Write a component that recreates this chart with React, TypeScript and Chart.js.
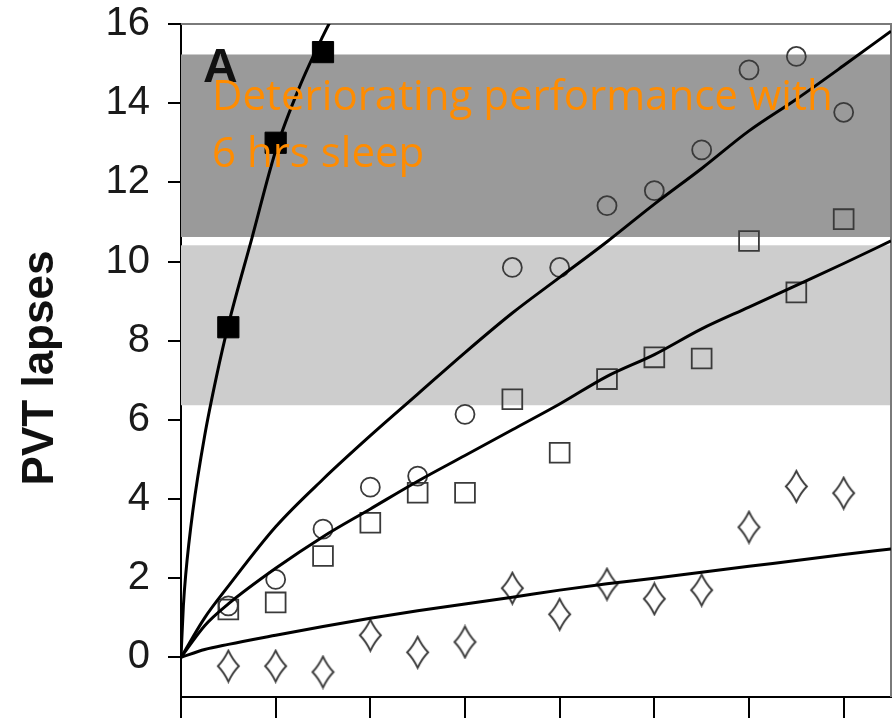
import React, { useEffect, useRef } from 'react';
import { Chart, registerables } from 'chart.js';

Chart.register(...registerables);

// ---------- data ----------
const Y_TICKS = [0, 2, 4, 6, 8, 10, 12, 14, 16];
const X_TICKS = [0, 2, 4, 6, 8, 10, 12, 14];
const DAYS = [1, 2, 3, 4, 5, 6, 7, 8, 9, 10, 11, 12, 13, 14];

const FILLED_DAYS = [1, 2, 3];
const FILLED_SQUARES = [8.34, 13.0, 15.29];
const CIRCLES = [1.3, 1.97, 3.24, 4.3, 4.58, 6.14, 9.85, 9.85, 11.41, 11.79, 12.82, 14.84, 15.18, 13.77];
const OPEN_SQUARES = [1.21, 1.39, 2.56, 3.4, 4.16, 4.16, 6.52, 5.17, 7.03, 7.58, 7.55, 10.52, 9.22, 11.07];
const DIAMONDS = [-0.22, -0.22, -0.37, 0.56, 0.13, 0.39, 1.75, 1.09, 1.85, 1.48, 1.7, 3.29, 4.32, 4.15];

// fitted curves
const FIT1_X = [0, 0.05, 0.1, 0.25, 0.5, 0.75, 1, 1.5, 2, 2.5, 3, 3.3];
const FIT1_Y = [0, 1.3, 2.1, 3.7, 5.6, 7.1, 8.4, 10.6, 12.8, 14.4, 15.7, 16.4];
const FIT_X = [0, 0.5, 1, 2, 3, 4, 5, 6, 7, 8, 9, 10, 11, 12, 13, 14, 15];
const FIT2_Y = [0, 1.0, 1.8, 3.3, 4.5, 5.6, 6.65, 7.7, 8.7, 9.6, 10.5, 11.45, 12.35, 13.3, 14.1, 14.95, 15.82];
const FIT3_Y = [0, 0.8, 1.35, 2.25, 3.05, 3.75, 4.45, 5.1, 5.75, 6.4, 7.1, 7.65, 8.3, 8.85, 9.4, 9.95, 10.52];
const FIT4_Y = [0, 0.2, 0.33, 0.56, 0.78, 0.99, 1.18, 1.35, 1.52, 1.7, 1.86, 2.0, 2.15, 2.3, 2.45, 2.6, 2.74];

// shaded bands [low, high]
const BAND_DARK = [10.62, 15.23];
const BAND_LIGHT = [6.37, 10.41];

const Y_TITLE = 'PVT lapses';
const PANEL_LABEL = 'A';
const NOTE_LINES = ['Deteriorating performance with', '6 hrs sleep'];

function pts(xs: number[], ys: number[]) {
  return xs.map((x, i) => ({ x, y: ys[i] }));
}

function makeDiamond(): HTMLCanvasElement {
  const c = document.createElement('canvas');
  const w = 25, h = 35;
  c.width = w; c.height = h;
  const g = c.getContext('2d')!;
  const cx = w / 2, cy = h / 2;
  const t = 2, b = h - 2, l = 2, r = w - 2;
  g.strokeStyle = '#3a3a3a';
  g.lineWidth = 1.8;
  g.beginPath();
  g.moveTo(cx, t);
  g.quadraticCurveTo(cx + 4.5, cy - 6, r, cy);
  g.quadraticCurveTo(cx + 4.5, cy + 6, cx, b);
  g.quadraticCurveTo(cx - 4.5, cy + 6, l, cy);
  g.quadraticCurveTo(cx - 4.5, cy - 6, cx, t);
  g.closePath();
  g.stroke();
  return c;
}

const decorPlugin = {
  id: 'decor',
  beforeDatasetsDraw(chart: any) {
    const { ctx, chartArea, scales } = chart;
    const y = scales.y;
    ctx.save();
    ctx.fillStyle = '#9a9a9a';
    const d1 = y.getPixelForValue(BAND_DARK[1]);
    const d0 = y.getPixelForValue(BAND_DARK[0]);
    ctx.fillRect(chartArea.left, d1, chartArea.right - chartArea.left, d0 - d1);
    ctx.fillStyle = '#cdcdcd';
    const l1 = y.getPixelForValue(BAND_LIGHT[1]);
    const l0 = y.getPixelForValue(BAND_LIGHT[0]);
    ctx.fillRect(chartArea.left, l1, chartArea.right - chartArea.left, l0 - l1);
    // frame top & right
    ctx.strokeStyle = '#7a7a7a';
    ctx.lineWidth = 2;
    ctx.beginPath();
    ctx.moveTo(chartArea.left, chartArea.top);
    ctx.lineTo(chartArea.right, chartArea.top);
    ctx.lineTo(chartArea.right, chartArea.bottom);
    ctx.stroke();
    ctx.restore();
  },
  afterDatasetsDraw(chart: any) {
    const { ctx } = chart;
    ctx.save();
    ctx.fillStyle = '#111';
    ctx.textBaseline = 'alphabetic';
    ctx.textAlign = 'left';
    ctx.font = 'bold 48px "Liberation Sans", Arial, sans-serif';
    ctx.fillText(PANEL_LABEL, 203, 82);
    ctx.fillStyle = '#ff8c00';
    ctx.font = '42px "Open Sans", sans-serif';
    ctx.fillText(NOTE_LINES[0], 212, 110);
    ctx.fillText(NOTE_LINES[1], 212, 167);
    // y axis title
    ctx.fillStyle = '#111';
    ctx.font = 'bold 44px "Liberation Sans", Arial, sans-serif';
    ctx.translate(53, 368);
    ctx.rotate(-Math.PI / 2);
    ctx.textAlign = 'center';
    ctx.fillText(Y_TITLE, 0, 0);
    ctx.restore();
  },
};

export default function App() {
  const ref = useRef<HTMLCanvasElement | null>(null);
  useEffect(() => {
    if (!ref.current) return;
    const diamond = makeDiamond();
    const lineDs = (data: any[]) => ({
      data,
      showLine: true,
      borderColor: '#000',
      borderWidth: 3,
      pointRadius: 0,
      cubicInterpolationMode: 'monotone',
      fill: false,
    });
    const chart = new Chart(ref.current, {
      type: 'scatter',
      data: {
        datasets: [
          lineDs(pts(FIT1_X, FIT1_Y)),
          lineDs(pts(FIT_X, FIT2_Y)),
          lineDs(pts(FIT_X, FIT3_Y)),
          lineDs(pts(FIT_X, FIT4_Y)),
          {
            data: pts(DAYS, CIRCLES),
            pointStyle: 'circle',
            pointRadius: 9.5,
            borderColor: '#3a3a3a',
            backgroundColor: 'rgba(0,0,0,0)',
            borderWidth: 1.8,
          } as any,
          {
            data: pts(DAYS, OPEN_SQUARES),
            pointStyle: 'rect',
            pointRadius: 14,
            borderColor: '#3a3a3a',
            backgroundColor: 'rgba(0,0,0,0)',
            borderWidth: 1.8,
          } as any,
          {
            data: pts(DAYS, DIAMONDS),
            pointStyle: diamond,
            pointRadius: 12,
          } as any,
          {
            data: pts(FILLED_DAYS, FILLED_SQUARES),
            pointStyle: 'rect',
            pointRadius: 15,
            borderColor: '#000',
            backgroundColor: '#000',
            borderWidth: 1,
          } as any,
        ],
      },
      options: {
        animation: false,
        responsive: false,
        devicePixelRatio: 1,
        layout: { autoPadding: false, padding: { top: 24, right: 1, left: 0, bottom: 0 } },
        plugins: { legend: { display: false }, tooltip: { enabled: false } },
        scales: {
          x: {
            type: 'linear',
            min: 0,
            max: 15,
            afterBuildTicks: (s: any) => { s.ticks = X_TICKS.map((v) => ({ value: v })); },
            afterFit: (s: any) => { s.height = 24; s.paddingLeft = 0; s.paddingRight = 0; },
            ticks: { display: false },
            grid: { drawOnChartArea: false, drawTicks: true, tickLength: 21, color: '#000', lineWidth: 2 },
            border: { display: true, color: '#000', width: 2 },
          },
          y: {
            type: 'linear',
            min: -1,
            max: 16,
            afterBuildTicks: (s: any) => { s.ticks = Y_TICKS.map((v) => ({ value: v })); },
            afterFit: (s: any) => { s.width = 181; s.paddingTop = 0; s.paddingBottom = 0; },
            ticks: {
              padding: 18,
              color: '#1a1a1a',
              font: { family: '"Liberation Sans", Arial, sans-serif', size: 40 },
            },
            grid: { drawOnChartArea: false, drawTicks: true, tickLength: 13, color: '#000', lineWidth: 2 },
            border: { display: true, color: '#000', width: 2 },
          },
        },
      },
      plugins: [decorPlugin],
    } as any);
    return () => chart.destroy();
  }, []);
  return (
    <div style={{ position: 'absolute', left: 0, top: 0, width: 892, height: 721, background: '#fff' }}>
      <canvas ref={ref} width={892} height={721} style={{ display: 'block' }} />
    </div>
  );
}
